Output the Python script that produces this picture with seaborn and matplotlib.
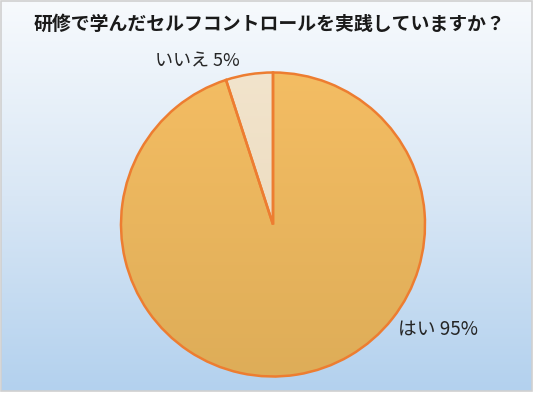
import numpy as np
import matplotlib
matplotlib.use("Agg")
import matplotlib.pyplot as plt
import seaborn as sns
from matplotlib.colors import LinearSegmentedColormap
from matplotlib.patches import Rectangle

categories = ["はい", "いいえ"]
values = [95, 5]
label_texts = ["はい 95%", "いいえ 5%"]
title = "研修で学んだセルフコントロールを実践していますか？"

sns.set_style("white")
plt.rcParams['font.family'] = ['Noto Sans CJK JP', 'DejaVu Sans']

W, H = 537, 394
fig = plt.figure(figsize=(W / 100, H / 100), dpi=100)
fig.patch.set_facecolor("white")

# background gradient
bg = fig.add_axes([0, 0, 1, 1])
bg.set_xlim(0, W)
bg.set_ylim(H, 0)
bg.axis("off")
grad = np.linspace(0, 1, 256).reshape(-1, 1)
bg_cmap = LinearSegmentedColormap.from_list("bg", ["#F7FAFD", "#D9E7F5", "#B3D1EE"])
bg.imshow(grad, cmap=bg_cmap, extent=(1, 532, 391, 1), aspect="auto", zorder=0)
bg.add_patch(Rectangle((1, 1), 531, 390, fill=False, edgecolor="#D0D0D0", linewidth=1.2, zorder=1))

# pie
cx, cy, r = 273, 224.5, 152
lim = 1.02
hs = r * lim
ax = fig.add_axes([(cx - hs) / W, (H - cy - hs) / H, 2 * hs / W, 2 * hs / H])
ax.set_facecolor("none")
wedges, _ = ax.pie(values, startangle=90, counterclock=False, radius=1,
                   colors=["#EBB55E", "#EEDFC4"],
                   wedgeprops=dict(edgecolor="#ED7D31", linewidth=1.8))
ax.set_xlim(-lim, lim)
ax.set_ylim(-lim, lim)
ax.set_aspect("equal")
ax.axis("off")

cmaps = [LinearSegmentedColormap.from_list("c0", ["#F4BD63", "#DEAD58"]),
         LinearSegmentedColormap.from_list("c1", ["#F2E4CC", "#E8D6B8"])]
g = np.linspace(0, 1, 256).reshape(-1, 1)
for w, cm in zip(wedges, cmaps):
    im = ax.imshow(g, cmap=cm, extent=(-1, 1, -1, 1), origin="upper", aspect="auto", zorder=1)
    im.set_clip_path(w)
    w.set_facecolor("none")
    w.set_zorder(2)

bg.text(W / 2 + 1, 24, title, ha="center", va="center", fontsize=13.6, fontweight="bold", color="#1a1a1a")
bg.text(438, 329, label_texts[0], ha="center", va="center", fontsize=13.5, color="#262626")
bg.text(197, 62, label_texts[1], ha="center", va="center", fontsize=13, color="#262626")

fig.savefig("out.png", dpi=100)
